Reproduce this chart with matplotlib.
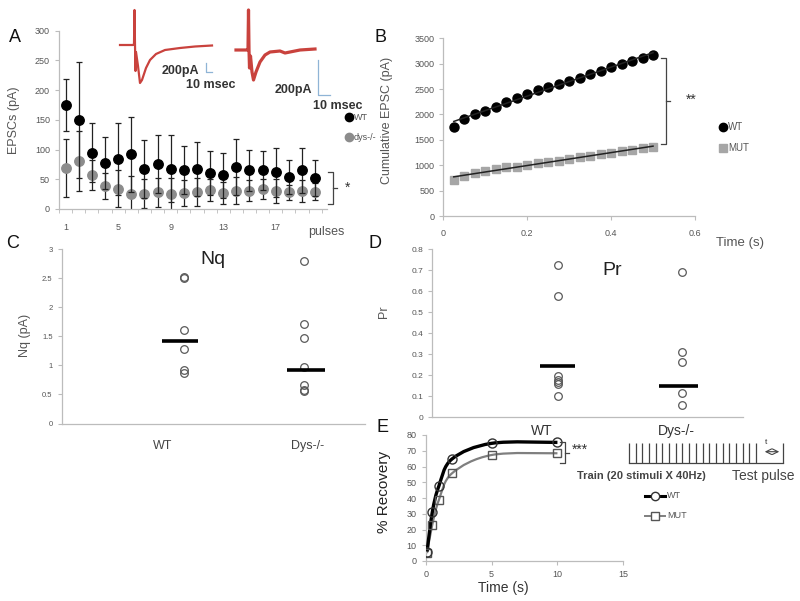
import numpy as np
import matplotlib
matplotlib.use("Agg")
import matplotlib.pyplot as plt
from matplotlib.path import Path
from matplotlib.patches import PathPatch

plt.rcParams["font.family"] = ["Liberation Sans", "DejaVu Sans"]

# ---------------- data ----------------
# A: EPSC amplitude per pulse
pulses = np.arange(1, 21)
wt_epsc = [175, 150, 95, 77, 84, 92, 67, 76, 68, 66, 67, 61, 57, 70, 65, 65, 62, 54, 65, 52]
wt_epsc_err = [43, 98, 49, 44, 60, 63, 49, 49, 57, 40, 45, 37, 38, 47, 35, 33, 41, 28, 38, 30]
dys_epsc = [69, 81, 57, 39, 34, 26, 26, 28, 26, 27, 29, 32, 27, 31, 31, 33, 30, 28, 30, 29]
dys_epsc_err = [48, 51, 25, 22, 31, 30, 24, 25, 27, 22, 24, 18, 19, 23, 18, 17, 20, 13, 19, 14]

# red example traces (x, y in inset units, y downwards)
trace1_x = [120, 133, 134, 134.5, 135, 135.5, 136, 138, 140, 142, 146, 150, 156, 165, 180, 195, 212]
trace1_y = [45, 45, 44, 10, 45, 71, 52, 66, 83, 80, 68, 60, 54, 50, 48, 46.5, 45.5]
trace2_x = [236, 247, 248, 248.5, 249, 249.5, 250.5, 252, 253.5, 256, 260, 265, 270, 280, 285, 290, 300, 315]
trace2_y = [50, 50, 49, 10, 50, 68, 56, 72, 80, 72, 62, 55, 52, 51, 53, 52, 50, 49]

# B: cumulative EPSC
time_b = np.arange(1, 21) * 0.025
wt_cum = [1747, 1911, 2009, 2075, 2154, 2252, 2318, 2403, 2482, 2535,
          2600, 2660, 2725, 2797, 2857, 2942, 2988, 3054, 3119, 3172]
mut_cum = [709, 788, 841, 887, 919, 959, 972, 1005, 1038, 1057,
           1090, 1123, 1156, 1182, 1215, 1248, 1281, 1307, 1333, 1366]

# C: Nq
nq_wt = [2.52, 2.50, 1.61, 1.28, 0.92, 0.87]
nq_dys = [2.80, 1.71, 1.48, 0.98, 0.66, 0.57, 0.56]
nq_mean = [1.425, 0.925]

# D: Pr
pr_wt = [0.725, 0.579, 0.195, 0.18, 0.168, 0.158, 0.102]
pr_dys = [0.69, 0.311, 0.263, 0.117, 0.059]
pr_mean = [0.244, 0.151]

# E: recovery
time_e = [0.1, 0.5, 1, 2, 5, 10]
rec_wt = [6, 31, 47.6, 64.8, 74.7, 75.3]
rec_mut = [5, 23, 38.7, 55.7, 67.3, 68.4]

W, H = 800, 601
fig = plt.figure(figsize=(8, 6.01), dpi=100)


def box(l, r, t, b):
    return [l / W, (H - b) / H, (r - l) / W, (b - t) / H]


spine_c = "#bcbcbc"
tick_c = "#555555"


def style(ax, size=6):
    for s in ["top", "right"]:
        ax.spines[s].set_visible(False)
    for s in ["left", "bottom"]:
        ax.spines[s].set_color(spine_c)
        ax.spines[s].set_linewidth(0.9)
    ax.tick_params(colors=spine_c, labelcolor=tick_c, labelsize=size, length=3, width=0.8)


# ---------------- A ----------------
axA = fig.add_axes(box(59, 327, 30.7, 209))
style(axA, 6.5)
axA.errorbar(pulses, dys_epsc, yerr=dys_epsc_err, fmt="o", ms=6.8, color="#8c8c8c",
             ecolor="#222222", elinewidth=0.9, capsize=2.5, capthick=0.9, zorder=2)
axA.errorbar(pulses, wt_epsc, yerr=wt_epsc_err, fmt="o", ms=6.8, color="black",
             ecolor="#222222", elinewidth=0.9, capsize=2.5, capthick=0.9, zorder=3)
axA.set_xlim(0.5, 20.9)
axA.set_ylim(0, 300)
axA.set_yticks(np.arange(0, 301, 50))
axA.set_xticks([1, 5, 9, 13, 17])
axA.set_xticks(np.arange(0.5, 21, 1), minor=True)
axA.tick_params(axis="x", which="major", length=0, pad=10)
axA.tick_params(axis="x", which="minor", length=3, color=spine_c)

# ---------------- B ----------------
axB = fig.add_axes(box(443.3, 695, 38.3, 216))
style(axB, 6.5)
axB.plot(time_b, wt_cum, "o", ms=6.5, color="black", zorder=3)
axB.plot(time_b, mut_cum, "s", ms=6, color="#a6a6a6", zorder=3)
for vals in (wt_cum, mut_cum):
    k, c = np.polyfit(time_b, vals, 1)
    axB.plot([time_b[0], time_b[-1]], [k * time_b[0] + c, k * time_b[-1] + c],
             color="#222222", lw=1.1, zorder=4)
axB.set_xlim(0, 0.6)
axB.set_ylim(0, 3500)
axB.set_xticks([0, 0.2, 0.4, 0.6])
axB.set_xticklabels(["0", "0.2", "0.4", "0.6"])
axB.set_yticks(np.arange(0, 3501, 500))
axB.tick_params(axis="x", pad=6)

# ---------------- C ----------------
axC = fig.add_axes(box(61.7, 365, 249.3, 423.5))
style(axC, 5.5)
axC.plot([1.146] * len(nq_wt), nq_wt, "o", ms=5.5, mfc="none", mec="#5a5a5a", mew=0.9)
axC.plot([1.98] * len(nq_dys), nq_dys, "o", ms=5.5, mfc="none", mec="#5a5a5a", mew=0.9)
axC.hlines(nq_mean, [0.99, 1.86], [1.24, 2.12], color="black", lw=2.6, zorder=4)
axC.set_xlim(0.297, 2.40)
axC.set_ylim(0, 3)
axC.set_yticks(np.arange(0, 3.01, 0.5))
axC.set_yticklabels(["0", "0.5", "1", "1.5", "2", "2.5", "3"])
axC.set_xticks([1, 2])
axC.set_xticklabels(["WT", "Dys-/-"], fontsize=9, color="#444444")
axC.tick_params(axis="x", length=0, pad=12)
axC.set_title("Nq", fontsize=14, color="#222222", x=0.5, y=0.87)

# ---------------- D ----------------
axD = fig.add_axes(box(432.3, 743, 249.3, 417.3))
style(axD, 6)
axD.plot([1.123] * len(pr_wt), pr_wt, "o", ms=5.5, mfc="none", mec="#5a5a5a", mew=0.9)
axD.plot([2.037] * len(pr_dys), pr_dys, "o", ms=5.5, mfc="none", mec="#5a5a5a", mew=0.9)
axD.hlines(pr_mean, [0.985, 1.87], [1.25, 2.16], color="black", lw=2.6, zorder=4)
axD.set_xlim(0.19, 2.49)
axD.set_ylim(0, 0.8)
axD.set_yticks(np.arange(0, 0.81, 0.1))
axD.set_yticklabels(["0", "0.1", "0.2", "0.3", "0.4", "0.5", "0.6", "0.7", "0.8"])
axD.set_xticks([1, 2])
axD.set_xticklabels(["WT", "Dys-/-"], fontsize=10, color="#333333")
axD.tick_params(axis="x", length=0, pad=5)
axD.set_title("Pr", fontsize=14, color="#222222", x=0.58, y=0.8)

# ---------------- E ----------------
axE = fig.add_axes(box(425.7, 623.3, 435, 561))
style(axE, 6.5)


def smooth(ax, xs, ys, **kw):
    p = np.column_stack([xs, ys]).astype(float)
    p = np.vstack([p[0], p, p[-1]])
    verts, codes = [p[1]], [Path.MOVETO]
    for i in range(1, len(p) - 2):
        c1 = p[i] + (p[i + 1] - p[i - 1]) / 6
        c2 = p[i + 1] - (p[i + 2] - p[i]) / 6
        verts += [c1, c2, p[i + 1]]
        codes += [Path.CURVE4] * 3
    ax.add_patch(PathPatch(Path(verts, codes), fill=False, **kw))


smooth(axE, time_e, rec_mut, ec="#7f7f7f", lw=1.6, zorder=2)
smooth(axE, time_e, rec_wt, ec="black", lw=2.4, zorder=3)
axE.plot(time_e, rec_mut, "s", ms=6, mfc="none", mec="#555555", mew=1.0, zorder=4)
axE.plot(time_e, rec_wt, "o", ms=6.5, mfc="none", mec="#333333", mew=1.0, zorder=5)
axE.set_xlim(0, 15)
axE.set_ylim(0, 80)
axE.set_xticks([0, 5, 10, 15])
axE.set_yticks(np.arange(0, 81, 10))

# ---------------- overlay: text, brackets, traces ----------------
ov = fig.add_axes([0, 0, 1, 1], zorder=10)
ov.set_xlim(0, W)
ov.set_ylim(H, 0)
ov.axis("off")

red = "#c9423d"
ov.plot(trace1_x, trace1_y, color=red, lw=1.6, solid_joinstyle="round")
ov.plot(trace2_x, trace2_y, color=red, lw=2.3, solid_joinstyle="round")
blue = "#8fb4d6"
ov.plot([206, 206, 212], [63, 72, 72], color=blue, lw=0.9)
ov.plot([318, 318, 330], [60, 95, 95], color=blue, lw=0.9)
dark = "#333333"
ov.text(180, 71, "200pA", fontsize=9, fontweight="bold", color=dark, ha="center", va="center")
ov.text(211, 85, "10 msec", fontsize=9, fontweight="bold", color=dark, ha="center", va="center")
ov.text(293, 90, "200pA", fontsize=9, fontweight="bold", color=dark, ha="center", va="center")
ov.text(338, 106, "10 msec", fontsize=9, fontweight="bold", color=dark, ha="center", va="center")

for lab, x, y in [("A", 15, 38), ("B", 380, 38), ("C", 13, 243), ("D", 375, 243), ("E", 383, 428)]:
    ov.text(x, y, lab, fontsize=13, color="#111111", ha="center", va="center")

grey_t = "#555555"
ov.text(14, 120, "EPSCs (pA)", fontsize=9, rotation=90, color=grey_t, ha="center", va="center")
ov.text(326, 232, "pulses", fontsize=9, color=grey_t, ha="center", va="center")
ov.text(387, 120, "Cumulative EPSC (pA)", fontsize=9, rotation=90, color=grey_t, ha="center", va="center")
ov.text(740, 243, "Time (s)", fontsize=9.5, color=grey_t, ha="center", va="center")
ov.text(25, 335, "Nq (pA)", fontsize=9, rotation=90, color=grey_t, ha="center", va="center")
ov.text(384, 312, "Pr", fontsize=9, rotation=90, color=grey_t, ha="center", va="center")
ov.text(384, 492, "% Recovery", fontsize=11, rotation=90, color="#222222", ha="center", va="center")
ov.text(503, 588, "Time (s)", fontsize=10, color="#333333", ha="center", va="center")

# legends
ov.plot([349], [117], "o", ms=6, color="black")
ov.text(354, 117, "WT", fontsize=6.5, color=grey_t, va="center")
ov.plot([349], [137], "o", ms=6, color="#8c8c8c")
ov.text(354, 137, "dys-/-", fontsize=6.5, color=grey_t, va="center")
ov.plot([723], [127], "o", ms=6, color="black")
ov.text(728, 127, "WT", fontsize=7, color=grey_t, va="center")
ov.plot([723], [148], "s", ms=5.5, color="#a6a6a6")
ov.text(728, 148, "MUT", fontsize=7, color=grey_t, va="center")
ov.plot([645, 665], [496, 496], color="black", lw=2.2)
ov.plot([655], [496], "o", ms=6, mfc="white", mec="#333333", mew=1.0)
ov.text(667, 496, "WT", fontsize=6.5, color=grey_t, va="center")
ov.plot([645, 665], [516, 516], color="#7f7f7f", lw=1.4)
ov.plot([655], [516], "s", ms=5.5, mfc="white", mec="#555555", mew=1.0)
ov.text(667, 516, "MUT", fontsize=6.5, color=grey_t, va="center")


def bracket(x, y0, y1, star, sx, sy):
    ov.plot([x - 5, x, x, x - 5], [y0, y0, y1, y1], color="#444444", lw=0.9)
    ov.plot([x, x + 4], [(y0 + y1) / 2] * 2, color="#444444", lw=0.9)
    ov.text(sx, sy, star, fontsize=10, color="#333333", ha="center", va="center")


bracket(333, 172, 204, "*", 348, 188)
bracket(666, 58, 144, "**", 691, 100)
bracket(565, 442, 463, "***", 580, 450)

# stimulation train
ov.plot([629, 783], [463.3, 463.3], color="#444444", lw=0.9)
ov.vlines(np.linspace(629, 756, 20), 442.7, 463.3, color="#444444", lw=0.9)
ov.vlines([783], 442.7, 463.3, color="#444444", lw=0.9)
ov.annotate("", xy=(782, 451.7), xytext=(762, 451.7),
            arrowprops=dict(arrowstyle="<->", color="#444444", lw=0.8))
ov.text(766, 442, "t", fontsize=6, color="#333333", ha="center", va="center")
ov.text(641, 476, "Train (20 stimuli X 40Hz)", fontsize=8, fontweight="bold",
        color="#444444", ha="center", va="center")
ov.text(763, 476, "Test pulse", fontsize=10, color="#444444", ha="center", va="center")

fig.savefig("out.png", dpi=100)
